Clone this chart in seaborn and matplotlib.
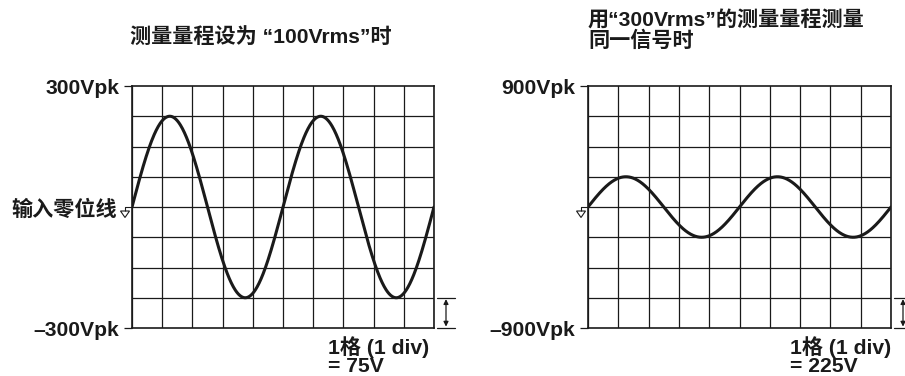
import numpy as np
import pandas as pd
import matplotlib
matplotlib.use("Agg")
import matplotlib.pyplot as plt
import matplotlib.transforms as mtransforms
import seaborn as sns

# Scope settings for the two panels
titles = ["测量量程设为 “100Vrms”时", "用“300Vrms”的测量量程测量\n同一信号时"]
full_scale_v = [300, 900]          # top / bottom of the screen, Vpk
volts_per_div = [75, 225]          # vertical scale
scale_labels = ["1格 (1 div)\n= 75V", "1格 (1 div)\n= 225V"]
zero_label = "输入零位线"

# The measured signal (same in both panels)
signal_peak_v = 225
period_div = 5
h_divs = 10
v_divs = 8

sns.set_theme(style="white")
plt.rcParams["font.family"] = ["Liberation Sans", "Noto Sans CJK SC"]
plt.rcParams["font.weight"] = "bold"

FS = 15.2
INK = "#1a1a1a"

fig = plt.figure(figsize=(9.05, 3.76), dpi=100)
W, H = 905, 376
axes = [
    fig.add_axes([132 / W, 48 / H, 302 / W, 242 / H]),
    fig.add_axes([588 / W, 48 / H, 303 / W, 242 / H]),
]


def px_at(ax, x, y):
    """Transform measuring pixel offsets (1/100 in) from data point (x, y)."""
    return (mtransforms.Affine2D().scale(0.01) + fig.dpi_scale_trans
            + mtransforms.ScaledTranslation(x, y, ax.transData))


x = np.linspace(0, h_divs, 600)
wave = pd.DataFrame({"div": x,
                     "volts": signal_peak_v * np.sin(2 * np.pi * x / period_div)})

for i, ax in enumerate(axes):
    fs_v = full_scale_v[i]
    vpd = volts_per_div[i]

    ax.set_xlim(0, h_divs)
    ax.set_ylim(-fs_v, fs_v)

    # graticule
    ax.set_xticks(np.arange(0, h_divs + 1), minor=True)
    ax.set_yticks(np.arange(-fs_v, fs_v + 1, vpd), minor=True)
    ax.grid(True, which="minor", color=INK, lw=0.9)
    ax.set_xticks([])
    ax.set_yticks([-fs_v, fs_v])
    ax.set_yticklabels([f"–{fs_v}Vpk", f"{fs_v}Vpk"], fontsize=FS,
                       fontweight="bold", color=INK)
    ax.tick_params(axis="y", which="major", left=True, length=6, width=0.9,
                   color=INK, pad=3)
    ax.tick_params(which="minor", length=0)
    for s in ax.spines.values():
        s.set_visible(True)
        s.set_color(INK)
        s.set_linewidth(1.2)

    sns.lineplot(data=wave, x="div", y="volts", ax=ax, color=INK, lw=2.2,
                 estimator=None, sort=False, legend=False)
    ax.set_xlabel("")
    ax.set_ylabel("")

    # ground symbol at the input zero line
    t0 = px_at(ax, 0, 0)
    ax.plot([0, -7, -7], [0, 0, -4], color=INK, lw=0.8, transform=t0,
            clip_on=False, solid_capstyle="butt")
    ax.fill([-11.5, -2.5, -7], [-4, -4, -10.5], facecolor="white",
            edgecolor=INK, lw=0.8, transform=t0, clip_on=False)

    # one-division scale marker on the right
    y_lo, y_hi = -fs_v, -fs_v + vpd
    for yy in (y_lo, y_hi):
        ax.plot([3, 21], [0, 0], color=INK, lw=0.9,
                transform=px_at(ax, h_divs, yy), clip_on=False)
    ax.annotate("", xy=(12, 0), xycoords=px_at(ax, h_divs, y_lo),
                xytext=(12, 0), textcoords=px_at(ax, h_divs, y_hi),
                arrowprops=dict(arrowstyle="<|-|>", color=INK, lw=0.9,
                                mutation_scale=7, shrinkA=1, shrinkB=1),
                annotation_clip=False)

axes[0].text(-15, -3, zero_label, transform=px_at(axes[0], 0, 0),
             ha="right", va="center", fontsize=FS, fontweight="bold", color=INK)

fig.text(130 / W, 1 - 38 / H, titles[0], ha="left", va="center",
         fontsize=FS, fontweight="bold", color=INK)
fig.text(588 / W, 1 - 30.5 / H, titles[1], ha="left", va="center",
         fontsize=FS, fontweight="bold", color=INK, linespacing=1.0)

for i, xpos in enumerate([328, 790]):
    fig.text(xpos / W, 1 - 356 / H, scale_labels[i], ha="left", va="center",
             fontsize=FS, fontweight="bold", color=INK, linespacing=0.9)

fig.savefig("out.png", dpi=100, facecolor="white")
